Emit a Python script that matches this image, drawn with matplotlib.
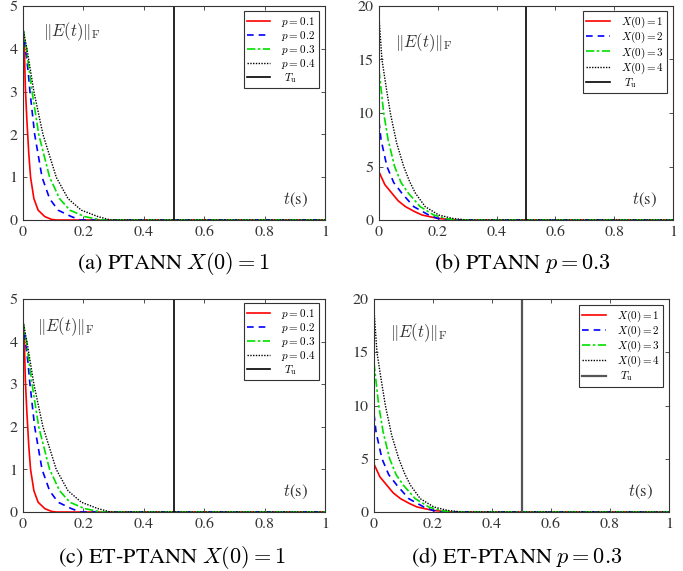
import matplotlib
matplotlib.use("Agg")
import matplotlib.pyplot as plt

plt.rcParams["font.family"] = ["TeX Gyre Termes", "Liberation Serif", "STIXGeneral", "DejaVu Serif"]
plt.rcParams["mathtext.fontset"] = "cm"
plt.rcParams["font.size"] = 11

# (a)/(c): X(0)=1, different p
t_p1 = [0, 0.0044, 0.0077, 0.013, 0.0155, 0.019, 0.025, 0.036, 0.05, 0.072, 0.094, 0.11, 1.0]
e_p1 = [4.47, 4.0, 3.1, 2.3, 2.0, 1.56, 1.0, 0.5, 0.23, 0.08, 0.015, 0.0, 0.0]
t_p2 = [0, 0.008, 0.0166, 0.023, 0.0386, 0.063, 0.088, 0.116, 0.16, 0.19, 1.0]
e_p2 = [4.47, 4.0, 3.5, 3.0, 2.0, 1.0, 0.5, 0.23, 0.08, 0.0, 0.0]
t_p3 = [0, 0.011, 0.030, 0.052, 0.088, 0.121, 0.155, 0.204, 0.26, 1.0]
e_p3 = [4.47, 4.0, 3.0, 2.0, 1.0, 0.5, 0.23, 0.08, 0.0, 0.0]
t_p4 = [0, 0.013, 0.036, 0.066, 0.110, 0.149, 0.193, 0.248, 0.29, 1.0]
e_p4 = [4.47, 4.0, 3.0, 2.0, 1.0, 0.5, 0.23, 0.08, 0.0, 0.0]

# (b)/(d): p=0.3, different X(0)
t_x1 = [0, 0.02, 0.044, 0.065, 0.09, 0.12, 0.146, 0.2, 0.26, 1.0]
e_x1 = [4.5, 3.3, 2.5, 1.8, 1.25, 0.8, 0.47, 0.15, 0.0, 0.0]
t_x2 = [0, 0.007, 0.027, 0.05, 0.078, 0.118, 0.169, 0.2, 0.23, 1.0]
e_x2 = [9.2, 7.5, 5.0, 3.5, 2.5, 1.25, 0.47, 0.15, 0.0, 0.0]
t_x3 = [0, 0.016, 0.031, 0.053, 0.075, 0.10, 0.14, 0.186, 0.23, 0.27, 1.0]
e_x3 = [14.0, 10.0, 7.5, 5.0, 3.5, 2.5, 1.25, 0.47, 0.12, 0.0, 0.0]
t_x4 = [0, 0.01, 0.025, 0.0385, 0.06, 0.084, 0.104, 0.124, 0.157, 0.203, 0.25, 0.3, 1.0]
e_x4 = [19.0, 15.0, 12.3, 10.0, 7.2, 5.0, 3.6, 2.5, 1.25, 0.47, 0.15, 0.0, 0.0]

T_u = 0.5
p_labels = [r"$p=0.1$", r"$p=0.2$", r"$p=0.3$", r"$p=0.4$"]
x_labels = [r"$X(0)=1$", r"$X(0)=2$", r"$X(0)=3$", r"$X(0)=4$"]
x_ticks = [0, 0.2, 0.4, 0.6, 0.8, 1]
x_ticklabels = ["0", "0.2", "0.4", "0.6", "0.8", "1"]
y_ticks_p = [0, 1, 2, 3, 4, 5]
y_ticks_x = [0, 5, 10, 15, 20]
captions = [r"(a) PTANN $X(0)=1$", r"(b) PTANN $p=0.3$",
            r"(c) ET-PTANN $X(0)=1$", r"(d) ET-PTANN $p=0.3$"]

styles = [dict(color="#ff0000", ls="-", lw=1.2),
          dict(color="#0000ff", ls=(0, (4, 3)), lw=1.2),
          dict(color="#00e000", ls=(0, (5, 1.5, 1.5, 1.5)), lw=1.2),
          dict(color="black", ls=(0, (1, 1)), lw=1.0)]

fig = plt.figure(figsize=(6.83, 5.71), dpi=100)


def panel(rect, curves, labels, yticks, tu_color, tu_lw, label_pos, leg_anchor):
	ax = fig.add_axes(rect)
	for (t, e), st, lab in zip(curves, styles, labels):
		ax.plot(t, e, label=lab, **st)
	ax.axvline(T_u, color=tu_color, lw=tu_lw, label=r"$\ T_{\mathrm{u}}$")
	ax.set_xlim(0, 1)
	ax.set_ylim(yticks[0], yticks[-1])
	ax.set_xticks(x_ticks)
	ax.set_xticklabels(x_ticklabels)
	ax.set_yticks(yticks)
	ax.tick_params(direction="in", top=True, right=True, length=3, width=0.6,
	               colors="#333333", labelsize=11.5, pad=4)
	for s in ax.spines.values():
		s.set_color("#333333")
		s.set_linewidth(0.8)
	ax.text(label_pos[0], label_pos[1], r"$\|E(t)\|_{\mathrm{F}}$", transform=ax.transAxes,
	        fontsize=12, va="center", ha="left", color="#333333")
	ax.text(0.86, 0.093, r"$t$(s)", transform=ax.transAxes,
	        fontsize=12, va="center", ha="left", color="#333333")
	leg = ax.legend(loc="upper right", bbox_to_anchor=leg_anchor, borderaxespad=0,
	                fontsize=8, fancybox=False, framealpha=1, edgecolor="#333333",
	                handlelength=2.1, handletextpad=1.0, labelspacing=0.0,
	                borderpad=0.3)
	leg.get_frame().set_linewidth(0.8)
	return ax


p_curves = [(t_p1, e_p1), (t_p2, e_p2), (t_p3, e_p3), (t_p4, e_p4)]
x_curves = [(t_x1, e_x1), (t_x2, e_x2), (t_x3, e_x3), (t_x4, e_x4)]

panel([0.0337, 0.6147, 0.4422, 0.3748], p_curves, p_labels, y_ticks_p, "black", 1.2, (0.066, 0.88), (0.98, 0.975))
panel([0.5549, 0.6147, 0.4305, 0.3748], x_curves, x_labels, y_ticks_x, "black", 1.2, (0.054, 0.83), (0.98, 0.975))
panel([0.0337, 0.1033, 0.4422, 0.3730], p_curves, p_labels, y_ticks_p, "black", 1.2, (0.046, 0.87), (0.98, 0.98))
panel([0.5476, 0.1033, 0.4319, 0.3730], x_curves, x_labels, y_ticks_x, "#555555", 1.6, (0.054, 0.84), (0.98, 0.972))

cap_pos = [(0.2548, 0.5394), (0.7643, 0.5394), (0.2518, 0.0245), (0.7570, 0.0245)]
for (cx, cy), cap in zip(cap_pos, captions):
	fig.text(cx, cy, cap, fontsize=16, ha="center", va="center")

plt.savefig("out.png", dpi=100)
plt.close()
